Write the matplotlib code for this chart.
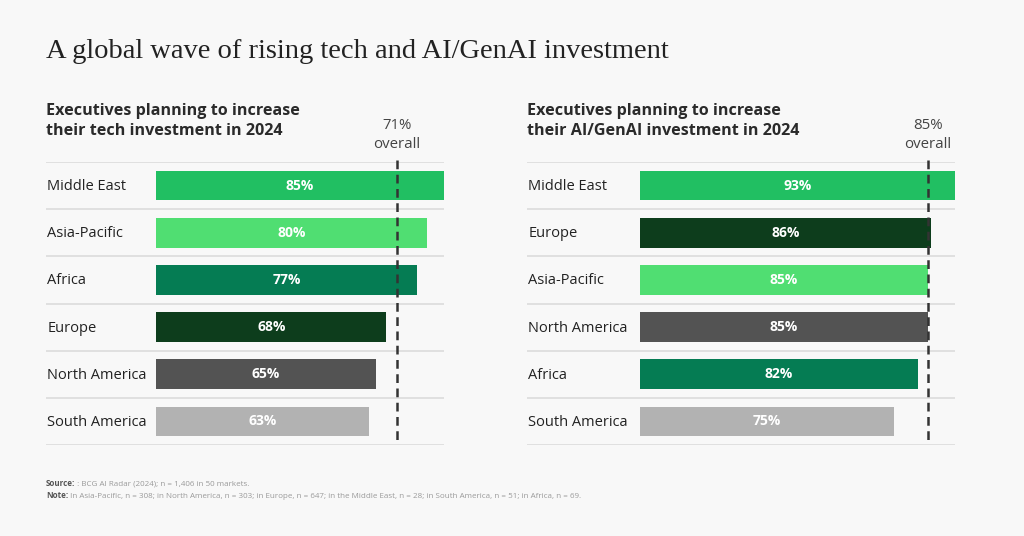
import matplotlib
matplotlib.use("Agg")
import matplotlib.pyplot as plt
import matplotlib.transforms as mtransforms

# left panel data
tech_regions = ["Middle East", "Asia-Pacific", "Africa", "Europe", "North America", "South America"]
tech_values = [85, 80, 77, 68, 65, 63]
tech_overall = 71

# right panel data
ai_regions = ["Middle East", "Europe", "Asia-Pacific", "North America", "Africa", "South America"]
ai_values = [93, 86, 85, 85, 82, 75]
ai_overall = 85

region_colors = {
    "Middle East": "#21bf62",
    "Asia-Pacific": "#50de72",
    "Africa": "#057c53",
    "Europe": "#0d3d1c",
    "North America": "#535353",
    "South America": "#b2b2b2",
}

bg = "#f8f8f8"
sans = ["Open Sans", "DejaVu Sans"]
serif = ["Liberation Serif", "DejaVu Serif"]

W, H = 1024, 536
fig = plt.figure(figsize=(W / 100, H / 100), dpi=100, facecolor=bg)

px_per_unit = 288 / 85.0


def panel(x0, x1, bar_start, regions, values, overall, subtitle):
    top, bottom = 162, 445
    ax = fig.add_axes([x0 / W, (H - bottom) / H, (x1 - x0) / W, (bottom - top) / H])
    ax.set_facecolor(bg)
    left_units = (bar_start - x0) / px_per_unit
    right_units = (x1 - bar_start) / px_per_unit
    ax.set_xlim(-left_units, right_units)
    n = len(regions)
    ax.set_ylim(n - 0.5, -0.5)
    for s in ax.spines.values():
        s.set_visible(False)
    ax.set_xticks([])
    ax.set_yticks([])

    for i in range(n + 1):
        ax.axhline(i - 0.5, color="#dcdcdc", lw=1.2, zorder=1)

    ax.barh(range(n), values, height=0.63, left=0,
            color=[region_colors[r] for r in regions], zorder=2)

    trans = mtransforms.blended_transform_factory(ax.transAxes, ax.transData)
    for i, (r, v) in enumerate(zip(regions, values)):
        ax.text(0.003, i + 0.02, r, transform=trans, ha="left", va="center",
                fontsize=10.5, color="#222222", family=sans)
        ax.text(v / 2, i, f"{v}%", ha="center", va="center", fontsize=10,
                fontweight="bold", color="white", family=sans, zorder=3)

    row_px = (bottom - top) / n
    ax.plot([overall, overall], [-0.5 - 2 / row_px, n - 0.5 - 5 / row_px],
            color="#333333", lw=1.8, dashes=(3.5, 2.2), clip_on=False, zorder=4)
    ax.text(overall, -0.5 - 27 / row_px, f"{overall}%\noverall", ha="center",
            va="center", fontsize=10.8, color="#444444", family=sans,
            linespacing=1.3)

    fig.text(x0 / W, 1 - 121 / H, subtitle, ha="left", va="center",
             fontsize=11.6, fontweight="bold", color="#2a2a2a", family=sans,
             linespacing=1.3)
    return ax


panel(46, 444, 156, tech_regions, tech_values, tech_overall,
      "Executives planning to increase\ntheir tech investment in 2024")
panel(527, 955, 640, ai_regions, ai_values, ai_overall,
      "Executives planning to increase\ntheir AI/GenAI investment in 2024")

fig.text(46 / W, 1 - 52 / H, "A global wave of rising tech and AI/GenAI investment",
         ha="left", va="center", fontsize=20.5, color="#222222", family=serif)

# footer with bold lead-in words
renderer = fig.canvas.get_renderer()
footer = [
    ("Source:", " : BCG AI Radar (2024); n = 1,406 in 50 markets.", 484),
    ("Note:", " In Asia-Pacific, n = 308; in North America, n = 303; in Europe, n = 647; "
              "in the Middle East, n = 28; in South America, n = 51; in Africa, n = 69.", 496),
]
for lead, rest, y in footer:
    t = fig.text(46 / W, 1 - y / H, lead, ha="left", va="center", fontsize=5.8,
                 fontweight="bold", color="#555555", family=sans)
    bb = t.get_window_extent(renderer)
    fig.text(bb.x1 / W, 1 - y / H, rest, ha="left", va="center", fontsize=5.8,
             color="#9a9a9a", family=sans)

fig.savefig("out.png", dpi=100, facecolor=bg)
